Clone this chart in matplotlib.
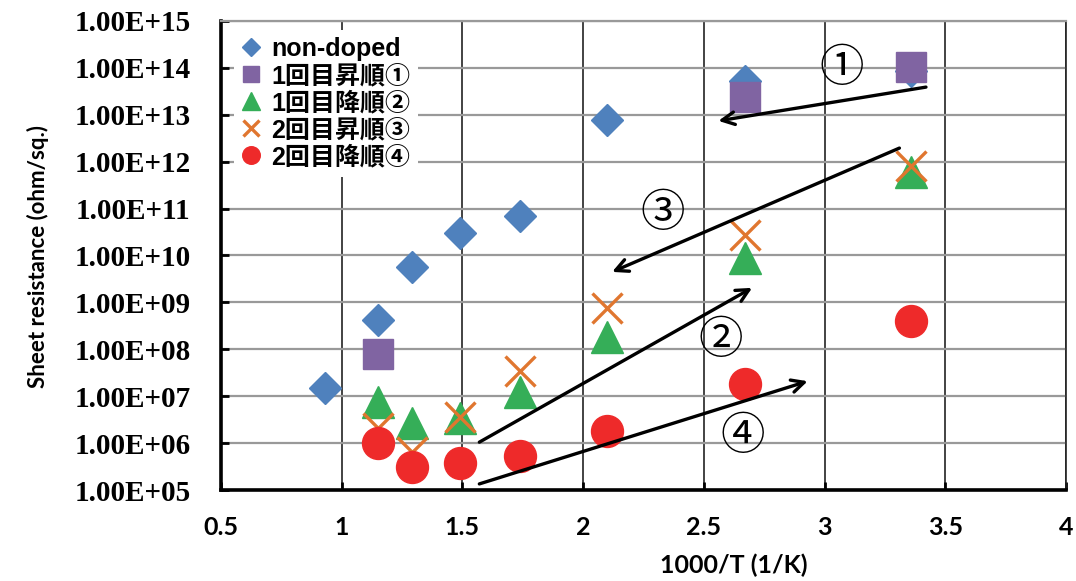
import numpy as np
import matplotlib.pyplot as plt
from matplotlib.ticker import FuncFormatter, NullLocator

# 1000/T values (1/K)
x_nd = [0.93, 1.15, 1.29, 1.49, 1.74, 2.10, 2.67, 3.36]
x_sq = [1.15, 2.67, 3.36]
x_run = [1.15, 1.29, 1.49, 1.74, 2.10, 2.67, 3.36]

# sheet resistance (ohm/sq.)
r_nondoped = [1.5e7, 4.2e8, 5.6e9, 3.0e10, 6.9e10, 7.8e12, 5.2e13, 8.5e13]
r_up1 = [8.0e7, 2.4e13, 1.05e14]
r_down1 = [7.6e6, 2.7e6, 3.5e6, 1.2e7, 1.8e8, 8.9e9, 6.0e11]
r_up2 = [2.1e6, 6.5e5, 3.6e6, 3.5e7, 7.6e8, 2.8e10, 8.1e11]
r_down2 = [1.0e6, 3.1e5, 3.8e5, 5.3e5, 1.8e6, 1.8e7, 4.0e8]

labels = ['non-doped', '1回目昇順①', '1回目降順②', '2回目昇順③', '2回目降順④']

# arrows: (x_start, y_start, x_end, y_end), circled labels: (text, x, y)
arrows = [(3.42, 10**13.59, 2.56, 10**12.87),
          (3.31, 10**12.29, 2.12, 10**9.65),
          (1.57, 10**6.02, 2.70, 10**9.31),
          (1.57, 10**5.13, 2.93, 10**7.32)]
notes = [('①', 3.07, 10**14.0), ('③', 2.33, 10**10.9),
         ('②', 2.57, 10**8.2), ('④', 2.66, 10**6.15)]

fig = plt.figure(figsize=(10.76, 5.81), dpi=100)
ax = fig.add_axes([0.2054, 0.1566, 0.7853, 0.8073])

ax.plot(x_nd, r_nondoped, 'D', color='#4F81BD', markersize=16, label=labels[0], zorder=3)
ax.plot(x_sq, r_up1, 's', color='#8064A2', markersize=22, label=labels[1], zorder=3)
ax.plot(x_run, r_down1, '^', color='#35AE58', markersize=23, label=labels[2], zorder=3)
ax.plot(x_run, r_up2, 'x', color='#E0762F', markersize=22, markeredgewidth=2.4,
        label=labels[3], zorder=3)
ax.plot(x_run, r_down2, 'o', color='#EE2A2A', markersize=23, label=labels[4], zorder=3)

for x0, y0, x1, y1 in arrows:
    ax.annotate('', xy=(x1, y1), xytext=(x0, y0),
                arrowprops=dict(arrowstyle='->,head_length=0.9,head_width=0.45',
                                color='black', lw=2.4, shrinkA=0, shrinkB=0),
                zorder=4)
for t, xt, yt in notes:
    ax.text(xt, yt, t, fontsize=32, ha='center', va='center',
            family=['Noto Sans CJK JP'], zorder=4)

ax.set_xlim(0.5, 4)
ax.set_yscale('log')
ax.set_ylim(1e5, 1e15)
ax.set_xticks(np.arange(0.5, 4.01, 0.5))
ax.set_xticklabels(['0.5', '1', '1.5', '2', '2.5', '3', '3.5', '4'])
ax.set_yticks([10.0**k for k in range(5, 16)])
ax.yaxis.set_minor_locator(NullLocator())
ax.yaxis.set_major_formatter(FuncFormatter(lambda v, p: f'{v:.2E}'))

ax.xaxis.grid(True, color='#222222', lw=1.2)
ax.yaxis.grid(True, color='#999999', lw=1.6)
ax.set_axisbelow(True)

for s in ['left', 'bottom']:
    ax.spines[s].set_linewidth(2.6)
ax.spines['top'].set_color('#999999')
ax.spines['top'].set_linewidth(1.6)
ax.spines['right'].set_color('#222222')
ax.spines['right'].set_linewidth(1.2)

ax.tick_params(direction='in', length=6, width=2)
ax.tick_params(axis='y', pad=22)
ax.tick_params(axis='x', pad=19)
for lab in ax.get_yticklabels():
    lab.set_family('Liberation Serif')
    lab.set_fontweight('bold')
    lab.set_fontsize(21)
for lab in ax.get_xticklabels():
    lab.set_family('Lato')
    lab.set_fontweight('bold')
    lab.set_fontsize(18)

ax.set_xlabel('1000/T (1/K)', family='Lato', fontweight='bold', fontsize=18)
ax.xaxis.set_label_coords(0.607, -0.135)
ax.set_ylabel('Sheet resistance (ohm/sq.)', family='Lato', fontweight='bold',
              fontsize=16)
ax.yaxis.set_label_coords(-0.203, 0.497)

leg = ax.legend(loc='upper left', bbox_to_anchor=(0.0, 1.008), markerscale=0.55,
                handlelength=0.8, handletextpad=0.4, labelspacing=0.12,
                borderpad=0.3, frameon=True, fancybox=False, framealpha=1,
                prop=dict(family=['Liberation Sans', 'Noto Sans CJK JP'],
                          weight='bold', size=18))
leg.get_frame().set_edgecolor('none')
leg.set_zorder(5)

fig.savefig('out.png', dpi=100)
